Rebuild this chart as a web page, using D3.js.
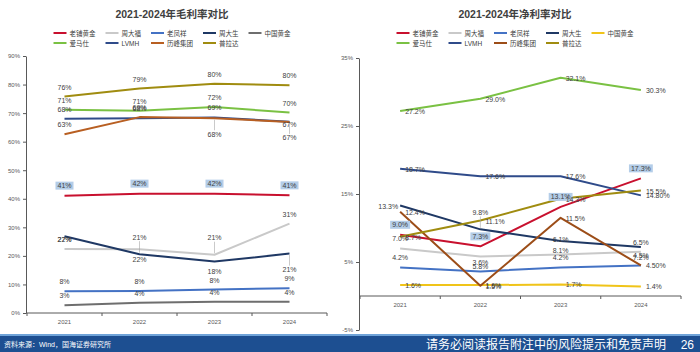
<!DOCTYPE html>
<html>
<head>
<meta charset="utf-8">
<script src="https://cdn.jsdelivr.net/npm/d3@7"></script>
<style>
  html, body { margin: 0; padding: 0; background: #fff; }
  svg { display: block; font-family: "Liberation Sans", "Noto Sans CJK SC", sans-serif; }
</style>
</head>
<body>
<svg id="chart" width="700" height="352"></svg>
<script>
// ── Data ───────────────────────────────────────────────────────────
const years  = ["2021", "2022", "2023", "2024"];
const names  = ["老铺黄金", "周大福", "老凤祥", "周大生", "中国黄金", "爱马仕", "LVMH", "历峰集团", "普拉达"];

// gross margin, %
const grossValues = [
    [41.1, 41.8, 41.8, 41.2],
    [22.4, 22.3, 20.4, 31.3],
    [7.6, 7.7, 8.2, 8.7],
    [26.9, 20.6, 18.0, 20.8],
    [2.7, 3.6, 3.9, 3.9],
    [71.2, 70.8, 72.1, 70.2],
    [68.0, 68.2, 68.5, 67.0],
    [62.6, 68.6, 68.2, 66.9],
    [75.8, 78.6, 80.3, 79.8]
];
const grossLabels = [
    ["41%", "42%", "42%", "41%"],
    ["22%", "22%", "21%", "31%"],
    ["8%", "8%", "8%", "9%"],
    ["27%", "21%", "18%", "21%"],
    ["3%", "4%", "4%", "4%"],
    ["71%", "71%", "72%", "70%"],
    ["68%", "68%", "69%", "67%"],
    ["63%", "69%", "68%", "67%"],
    ["76%", "79%", "80%", "80%"]
];

// net margin, %
const netValues = [
    [9.0, 7.3, 13.1, 17.3],
    [7.0, 5.8, 6.1, 6.5],
    [4.2, 3.6, 4.2, 4.5],
    [13.3, 9.8, 8.1, 7.2],
    [1.6, 1.6, 1.7, 1.4],
    [27.2, 29.0, 32.1, 30.3],
    [18.7, 17.6, 17.6, 14.8],
    [12.4, 1.5, 11.5, 4.5],
    [8.7, 11.1, 14.3, 15.5]
];
const netLabels = [
    ["9.0%", "7.3%", "13.1%", "17.3%"],
    ["7.0%", "5.8%", "6.1%", "6.5%"],
    ["4.2%", "3.6%", "4.2%", "4.5%"],
    ["13.3%", "9.8%", "8.1%", "7.2%"],
    ["1.6%", "1.6%", "1.7%", "1.4%"],
    ["27.2%", "29.0%", "32.1%", "30.3%"],
    ["18.7%", "17.6%", "17.6%", "14.80%"],
    ["12.4%", "1.5%", "11.5%", "4.50%"],
    ["8.7%", "11.1%", "14.3%", "15.5%"]
];

const grossTicks = [0, 10, 20, 30, 40, 50, 60, 70, 80, 90];
const netTicks   = [-5, 5, 15, 25, 35];

// ── Styles / layout ────────────────────────────────────────────────
const grossColors = ["#c8102e", "#c9c9c9", "#4472c4", "#1f3864", "#6e6e6e", "#7ac143", "#2f4b8a", "#b85f22", "#a08c10"];
const netColors   = ["#c8102e", "#c9c9c9", "#4472c4", "#1f3864", "#f0c419", "#7ac143", "#2f4b8a", "#9c4d18", "#a08c10"];

// label placement codes: X box, a above, b below, A far above + leader,
// B far below + leader, u far above, o on line, r right, l left
const grossPlace = [
    ["X", "X", "X", "X"],
    ["a", "b", "A", "a"],
    ["a", "a", "a", "a"],
    ["o", "A", "b", "B"],
    ["a", "a", "a", "a"],
    ["a", "a", "a", "a"],
    ["a", "a", "a", "o"],
    ["a", "a", "B", "B"],
    ["a", "a", "a", "a"]
];
const netPlace = [
    ["X", "X", "X", "X"],
    ["a", "b", "u", "a"],
    ["a", "a", "a", "a"],
    ["l", "A", "b", "b"],
    ["r", "r", "r", "r"],
    ["r", "r", "r", "r"],
    ["r", "r", "r", "r"],
    ["r", "r", "r", "r"],
    ["r", "r", "r", "r"]
];

const svg = d3.select("#chart");
const TXT = "#404040", AX = "#595959";

function drawChart(cfg) {
    const g = svg.append("g");

    const x = d3.scaleBand().domain(years).range(cfg.xRange).paddingInner(0).paddingOuter(0);
    const y = d3.scaleLinear().domain(cfg.yDomain).range(cfg.yRange);
    const cx = d => x(d) + x.bandwidth() / 2;

    // title
    g.append("text")
        .attr("x", cfg.center).attr("y", 18)
        .attr("text-anchor", "middle").attr("fill", TXT)
        .attr("font-size", 10.5).attr("font-weight", 700)
        .text(cfg.title);

    // legend (two rows, row 2 aligned on row 1 columns)
    const leg = g.append("g");
    const row1 = [0, 1, 2, 3, 4], row2 = [5, 6, 7, 8];
    const sw = 13, gap = 3, itemGap = 10;
    const widths = names.map(n => {
        const t = leg.append("text").attr("font-size", 6.5).text(n);
        const w = t.node().getComputedTextLength();
        t.remove();
        return w;
    });
    const colW = row1.map((i, k) => Math.max(widths[i], row2[k] != null ? widths[row2[k]] : 0) + sw + gap);
    const total = d3.sum(colW) + itemGap * (colW.length - 1);
    let cxl = cfg.center - total / 2;
    const colX = colW.map(w => { const v = cxl; cxl += w + itemGap; return v; });
    [row1, row2].forEach((row, r) => {
        const ly = 33 + r * 10;
        row.forEach((i, k) => {
            leg.append("line")
                .attr("x1", colX[k]).attr("x2", colX[k] + sw)
                .attr("y1", ly).attr("y2", ly)
                .attr("stroke", cfg.colors[i]).attr("stroke-width", 2);
            leg.append("text")
                .attr("x", colX[k] + sw + gap).attr("y", ly)
                .attr("dominant-baseline", "central")
                .attr("font-size", 6.5).attr("fill", TXT)
                .text(names[i]);
        });
    });

    // y axis
    const yAxis = g.append("g")
        .attr("transform", `translate(${cfg.xRange[0] - 1},0)`)
        .call(d3.axisLeft(y).tickValues(cfg.ticks).tickSize(3).tickSizeOuter(0).tickFormat(d => d + "%"));
    yAxis.select(".domain").attr("stroke", AX);
    yAxis.selectAll(".tick line").attr("stroke", AX);
    yAxis.selectAll(".tick text").attr("fill", AX).attr("font-size", 6).attr("font-family", null);

    // x axis at zero, ticks between categories
    const y0 = y(0);
    g.append("line")
        .attr("x1", cfg.xRange[0] - 1).attr("x2", cfg.xRange[1])
        .attr("y1", y0).attr("y2", y0)
        .attr("stroke", AX).attr("stroke-width", 1);
    d3.range(years.length + 1).forEach(i => {
        const tx = cfg.xRange[0] + i * x.step();
        g.append("line")
            .attr("x1", tx).attr("x2", tx).attr("y1", y0).attr("y2", y0 + 3)
            .attr("stroke", AX);
    });
    g.selectAll(".xlab").data(years).enter().append("text")
        .attr("x", cx).attr("y", y0 + 11)
        .attr("text-anchor", "middle").attr("font-size", 6).attr("fill", AX)
        .text(d => d);

    // lines
    const line = d3.line().x((d, i) => cx(years[i])).y(d => y(d));
    cfg.values.forEach((vals, s) => {
        g.append("path")
            .datum(vals)
            .attr("d", line)
            .attr("fill", "none")
            .attr("stroke", cfg.colors[s])
            .attr("stroke-width", 2)
            .attr("stroke-linejoin", "round");
    });

    // labels
    const lab = g.append("g").attr("font-size", 7).attr("fill", TXT);
    cfg.values.forEach((vals, s) => {
        vals.forEach((v, i) => {
            const px = cx(years[i]), py = y(v);
            const code = cfg.place[s][i];
            const txt = cfg.labels[s][i];
            let tx = px, ty = py, anchor = "middle";
            if (code === "a") ty = py - 9.5;
            else if (code === "b") ty = py + 10;
            else if (code === "A") ty = py - 17;
            else if (code === "B") ty = py + 16;
            else if (code === "u") ty = py - 15;
            else if (code === "o") ty = py + 3;
            else if (code === "r") { tx = px + 5; ty = py + 0.5; anchor = "start"; }
            else if (code === "l") { tx = px - 2; ty = py + 1; anchor = "end"; }
            else if (code === "X") ty = py - 10;

            if (code === "A" || code === "B") {
                const dir = code === "A" ? 1 : -1;
                lab.append("line")
                    .attr("x1", px).attr("x2", px)
                    .attr("y1", ty + dir * 4).attr("y2", py - dir * 1.5)
                    .attr("stroke", "#a6a6a6").attr("stroke-width", 0.6);
            }
            const t = lab.append("text")
                .attr("x", tx).attr("y", ty)
                .attr("text-anchor", anchor)
                .attr("dominant-baseline", "central")
                .text(txt);
            if (code === "X") {
                const bb = t.node().getBBox();
                lab.insert("rect", () => t.node())
                    .attr("x", bb.x - 2).attr("y", bb.y - 0.5)
                    .attr("width", bb.width + 4).attr("height", bb.height + 1)
                    .attr("fill", "#b4cde8");
            }
        });
    });
}

drawChart({
    title: "2021-2024年毛利率对比",
    center: 172,
    xRange: [27, 327],
    yDomain: [0, 90],
    yRange: [313, 56],
    ticks: grossTicks,
    values: grossValues,
    labels: grossLabels,
    place: grossPlace,
    colors: grossColors
});

drawChart({
    title: "2021-2024年净利率对比",
    center: 515,
    xRange: [360, 681],
    yDomain: [-5, 35],
    yRange: [330, 58],
    ticks: netTicks,
    values: netValues,
    labels: netLabels,
    place: netPlace,
    colors: netColors
});

// ── Footer ────────────────────────────────────────────────────────
svg.append("rect").attr("x", 0).attr("y", 334).attr("width", 700).attr("height", 2).attr("fill", "#6fa3d8");
svg.append("rect").attr("x", 0).attr("y", 336).attr("width", 700).attr("height", 16).attr("fill", "#1d4f91");
svg.append("text")
    .attr("x", 4).attr("y", 346.5)
    .attr("font-size", 7).attr("fill", "#fff")
    .text("资料来源：Wind，国海证券研究所");
svg.append("text")
    .attr("x", 666).attr("y", 348.5)
    .attr("text-anchor", "end")
    .attr("font-size", 12).attr("fill", "#fff")
    .text("请务必阅读报告附注中的风险提示和免责声明");
svg.append("text")
    .attr("x", 694).attr("y", 348.5)
    .attr("text-anchor", "end")
    .attr("font-size", 12).attr("fill", "#fff")
    .text("26");
</script>
</body>
</html>
